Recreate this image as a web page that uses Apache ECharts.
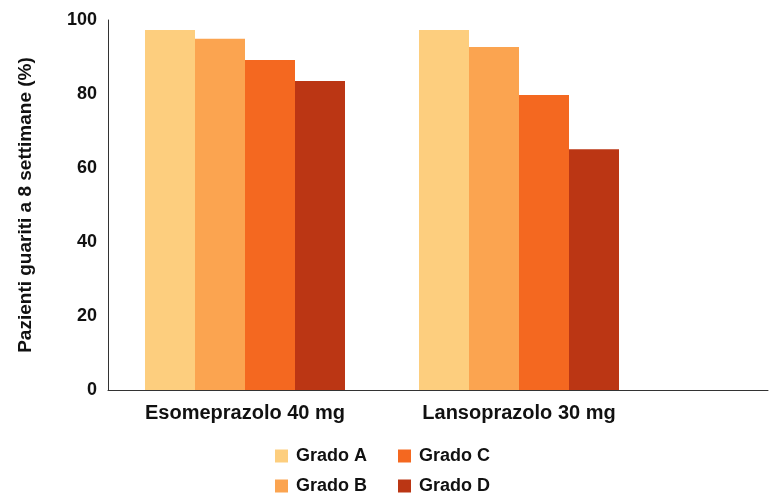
<!DOCTYPE html>
<html>
<head>
<meta charset="utf-8">
<script src="https://cdn.jsdelivr.net/npm/echarts@6/dist/echarts.min.js"></script>
<style>html,body{margin:0;padding:0;background:#fff}#c{width:769px;height:495px}</style>
</head>
<body>
<div id="c"></div>
<script>
const categories = ['Esomeprazolo 40 mg', 'Lansoprazolo 30 mg'];
const seriesNames = ['Grado A', 'Grado B', 'Grado C', 'Grado D'];
const gradoA = [97.3, 97.3];
const gradoB = [94.9, 92.7];
const gradoC = [89.2, 79.7];
const gradoD = [83.5, 65.1];
const yTicks = [0, 20, 40, 60, 80, 100];

const colors = ['#FDCE7E', '#FBA450', '#F46820', '#BB3614'];
const values = [gradoA, gradoB, gradoC, gradoD];
const FONT = 'Liberation Sans';

const legendText = {color: '#111', fontFamily: FONT, fontWeight: 'bold', fontSize: 18, padding: [0, 0, 0, 3]};

const chart = echarts.init(document.getElementById('c'), null, {renderer: 'canvas'});
chart.setOption({
  animation: false,
  backgroundColor: '#fff',
  grid: [
    {left: 108, right: 113, top: 20, bottom: 105, containLabel: false},
    {left: 655, right: 1, top: 20, bottom: 105, containLabel: false}
  ],
  xAxis: [
    {
      type: 'category', gridIndex: 0, data: categories,
      axisLine: {lineStyle: {color: '#333', width: 1}},
      axisTick: {show: false},
      axisLabel: {color: '#111', fontFamily: FONT, fontWeight: 'bold', fontSize: 20, margin: 13}
    },
    {
      type: 'value', gridIndex: 1, min: 0, max: 1,
      axisLine: {show: true, lineStyle: {color: '#333', width: 1}},
      axisTick: {show: false}, axisLabel: {show: false}, splitLine: {show: false}
    }
  ],
  yAxis: [
    {
      type: 'value', gridIndex: 0, min: yTicks[0], max: yTicks[yTicks.length - 1], interval: 20,
      name: 'Pazienti guariti a 8 settimane (%)',
      nameLocation: 'middle', nameGap: 73, nameRotate: 90,
      nameTextStyle: {color: '#111', fontFamily: FONT, fontWeight: 'bold', fontSize: 19},
      axisLine: {show: true, lineStyle: {color: '#333', width: 1}},
      axisTick: {show: false},
      splitLine: {show: false},
      axisLabel: {color: '#111', fontFamily: FONT, fontWeight: 'bold', fontSize: 18, margin: 11}
    },
    {type: 'value', gridIndex: 1, min: 0, max: 100, show: false}
  ],
  legend: [
    {
      data: ['Grado A', 'Grado B'], orient: 'vertical', left: 270, top: 442, height: 70,
      icon: 'rect', itemWidth: 13, itemHeight: 13, itemGap: 12,
      textStyle: legendText
    },
    {
      data: ['Grado C', 'Grado D'], orient: 'vertical', left: 393, top: 442, height: 70,
      icon: 'rect', itemWidth: 13, itemHeight: 13, itemGap: 12,
      textStyle: legendText
    }
  ],
  series: seriesNames.map((n, i) => ({
    name: n, type: 'bar', xAxisIndex: 0, yAxisIndex: 0,
    data: values[i], barWidth: 50, barGap: '0%',
    itemStyle: {color: colors[i]}
  }))
});
</script>
</body>
</html>
